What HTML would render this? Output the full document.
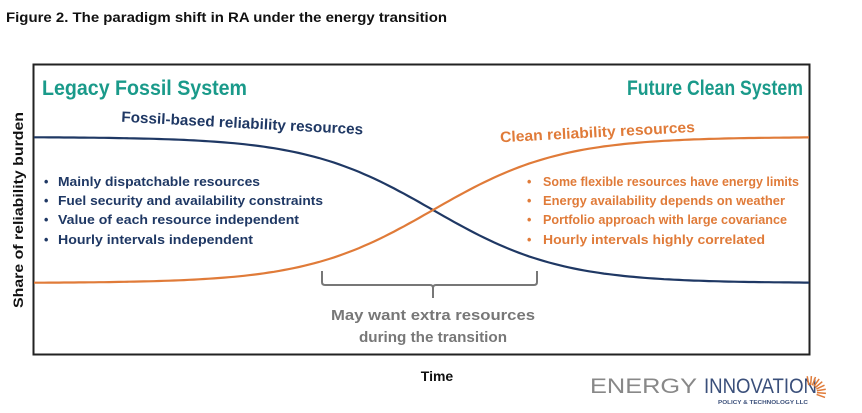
<!DOCTYPE html>
<html><head><meta charset="utf-8"><style>
html,body{margin:0;padding:0;background:#fff;}
svg{display:block;font-family:"Liberation Sans",sans-serif;font-weight:bold;}
</style></head><body>
<svg width="862" height="413" viewBox="0 0 862 413" xmlns="http://www.w3.org/2000/svg">
<rect width="862" height="413" fill="#fff"/>
<text x="6" y="22" font-size="13.5" fill="#111" textLength="441" lengthAdjust="spacingAndGlyphs">Figure 2. The paradigm shift in RA under the energy transition</text>
<rect x="33.5" y="64.5" width="776" height="290" fill="none" stroke="#222" stroke-width="2"/>
<path id="blue" fill="none" stroke="#1f3864" stroke-width="2.2"/>
<path id="orange" fill="none" stroke="#e07b39" stroke-width="2.2"/>
<text x="42" y="95" font-size="21" fill="#1a9a8a" textLength="205" lengthAdjust="spacingAndGlyphs">Legacy Fossil System</text>
<text x="627" y="95" font-size="21" fill="#1a9a8a" textLength="176" lengthAdjust="spacingAndGlyphs">Future Clean System</text>
<text x="121" y="128" font-size="15" fill="#1f3864" textLength="242" lengthAdjust="spacingAndGlyphs" transform="rotate(3 240 128)">Fossil-based reliability resources</text>
<text x="500" y="137" font-size="15" fill="#e07b39" textLength="195" lengthAdjust="spacingAndGlyphs" transform="rotate(-3 600 133)">Clean reliability resources</text>
<g font-size="12.5" fill="#1f3864">
<text x="58" y="186" textLength="202" lengthAdjust="spacingAndGlyphs">Mainly dispatchable resources</text>
<text x="58" y="205" textLength="265" lengthAdjust="spacingAndGlyphs">Fuel security and availability constraints</text>
<text x="58" y="224" textLength="241" lengthAdjust="spacingAndGlyphs">Value of each resource independent</text>
<text x="58" y="244" textLength="195" lengthAdjust="spacingAndGlyphs">Hourly intervals independent</text>
<text x="44" y="186">•</text><text x="44" y="205">•</text><text x="44" y="224">•</text><text x="44" y="244">•</text>
</g>
<g font-size="12.5" fill="#e07b39">
<text x="543" y="186" textLength="256" lengthAdjust="spacingAndGlyphs">Some flexible resources have energy limits</text>
<text x="543" y="205" textLength="242" lengthAdjust="spacingAndGlyphs">Energy availability depends on weather</text>
<text x="543" y="224" textLength="244" lengthAdjust="spacingAndGlyphs">Portfolio approach with large covariance</text>
<text x="543" y="244" textLength="222" lengthAdjust="spacingAndGlyphs">Hourly intervals highly correlated</text>
<text x="527" y="186">•</text><text x="527" y="205">•</text><text x="527" y="224">•</text><text x="527" y="244">•</text>
</g>
<path d="M322 271 V282 Q322 285 325 285 H430 Q433 285 433 288 V298 M433 288 Q433 285 436 285 H534 Q537 285 537 282 V271" fill="none" stroke="#777" stroke-width="2"/>
<g font-size="15" fill="#777" text-anchor="middle">
<text x="433" y="320" textLength="204" lengthAdjust="spacingAndGlyphs">May want extra resources</text>
<text x="433" y="342" textLength="148" lengthAdjust="spacingAndGlyphs">during the transition</text>
</g>
<text x="437" y="381" font-size="14" fill="#111" text-anchor="middle">Time</text>
<text x="23" y="210" font-size="14" fill="#111" text-anchor="middle" textLength="196" lengthAdjust="spacingAndGlyphs" transform="rotate(-90 23 210)">Share of reliability burden</text>
<text x="590" y="393" font-size="21" font-weight="normal" fill="#888" textLength="107" lengthAdjust="spacingAndGlyphs">ENERGY</text>
<text x="704" y="393" font-size="21" font-weight="normal" fill="#3a4f7a" textLength="113" lengthAdjust="spacingAndGlyphs">INNOVATION</text>
<text x="718" y="404" font-size="5" fill="#3a4f7a" textLength="90" lengthAdjust="spacingAndGlyphs">POLICY &amp; TECHNOLOGY LLC</text>
<g id="sun" stroke="#e07b39" stroke-width="1.5"></g>
</svg>
<script>
var k=64,c=433,b="",o="";
for(var x=34;x<=809;x+=5){var s=1/(1+Math.exp(-(x-c)/k));var yb=137+146*s, yo=283-146*s;b+=(x==34?"M":"L")+x+" "+yb.toFixed(1);o+=(x==34?"M":"L")+x+" "+yo.toFixed(1);}
document.getElementById("blue").setAttribute("d",b);
document.getElementById("orange").setAttribute("d",o);
var g=document.getElementById("sun"),h="";
for(var i=0;i<9;i++){var a=(-100+i*15)*Math.PI/180;var cx=810,cy=392;h+='<line x1="'+(cx+Math.cos(a)*7)+'" y1="'+(cy+Math.sin(a)*7)+'" x2="'+(cx+Math.cos(a)*16)+'" y2="'+(cy+Math.sin(a)*16)+'"/>';}
g.innerHTML=h;
</script>
</body></html>
